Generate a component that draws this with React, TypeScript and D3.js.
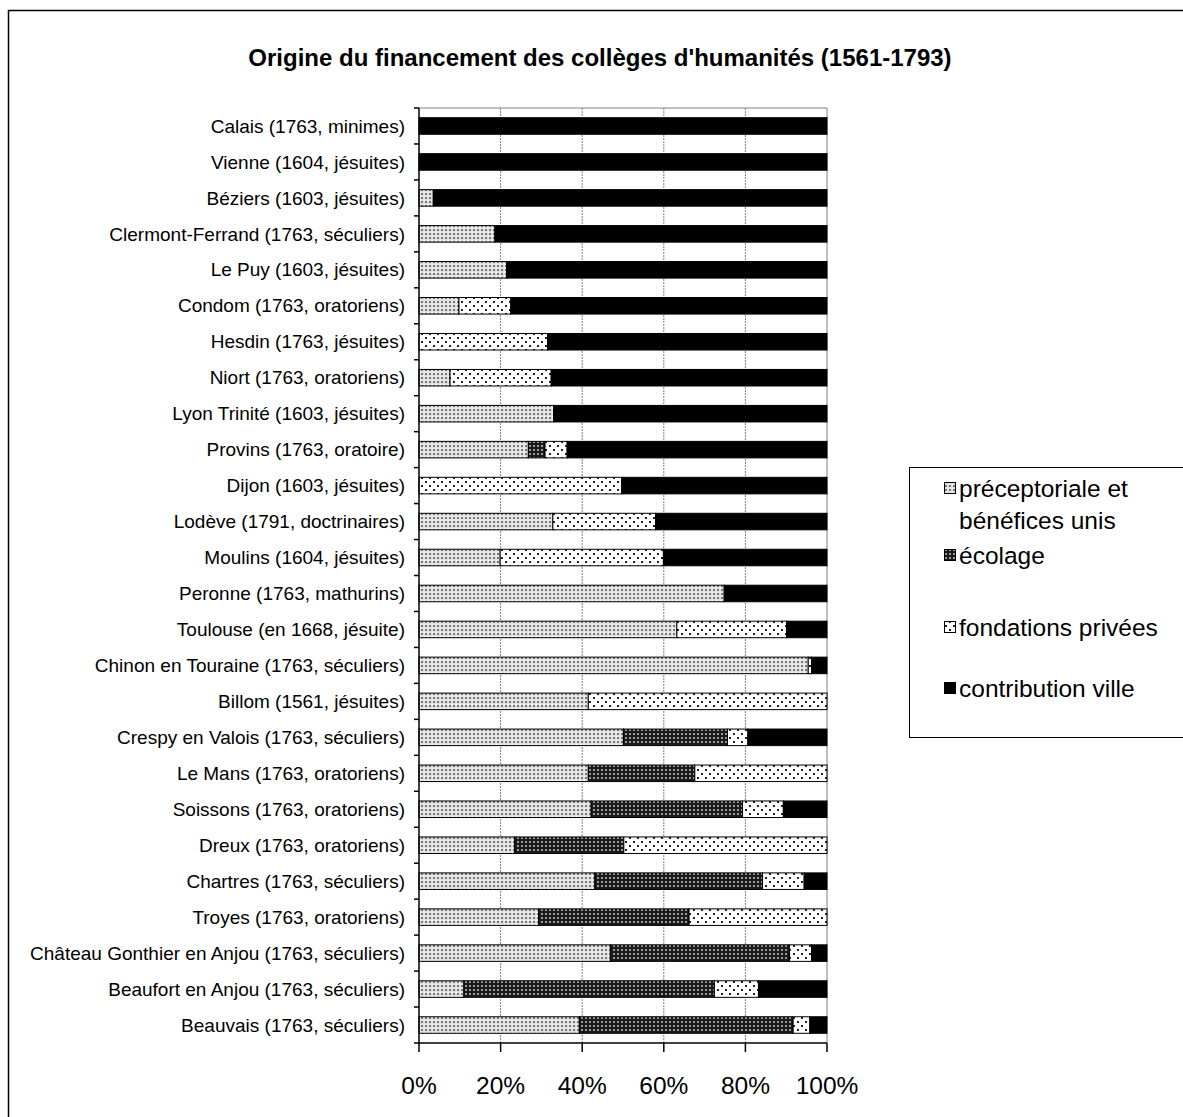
import { useEffect, useRef } from 'react'
import * as d3 from 'd3'

const TITLE = "Origine du financement des collèges d'humanités (1561-1793)"

const COLLEGES = [
  'Calais (1763, minimes)',
  'Vienne (1604, jésuites)',
  'Béziers (1603, jésuites)',
  'Clermont-Ferrand (1763, séculiers)',
  'Le Puy (1603, jésuites)',
  'Condom (1763, oratoriens)',
  'Hesdin (1763, jésuites)',
  'Niort (1763, oratoriens)',
  'Lyon Trinité (1603, jésuites)',
  'Provins (1763, oratoire)',
  'Dijon (1603, jésuites)',
  'Lodève (1791, doctrinaires)',
  'Moulins (1604, jésuites)',
  'Peronne (1763, mathurins)',
  'Toulouse (en 1668, jésuite)',
  'Chinon en Touraine (1763, séculiers)',
  'Billom (1561, jésuites)',
  'Crespy en Valois (1763, séculiers)',
  'Le Mans (1763, oratoriens)',
  'Soissons (1763, oratoriens)',
  'Dreux (1763, oratoriens)',
  'Chartres (1763, séculiers)',
  'Troyes (1763, oratoriens)',
  'Château Gonthier en Anjou (1763, séculiers)',
  'Beaufort en Anjou (1763, séculiers)',
  'Beauvais (1763, séculiers)',
]

// shares in percent, same order as COLLEGES
const PRECEPTORIALE = [0, 0, 3.5, 18.6, 21.5, 9.8, 0, 7.6, 33, 26.8, 0, 32.8, 19.9, 74.8, 63.2, 95.4, 41.5, 50.1, 41.5, 42.2, 23.4, 43.1, 29.3, 46.9, 11, 39.3]
const ECOLAGE = [0, 0, 0, 0, 0, 0, 0, 0, 0, 4.1, 0, 0, 0, 0, 0, 0, 0, 25.5, 26.1, 37.1, 26.8, 41.1, 36.9, 43.9, 61.4, 52.4]
const FONDATIONS = [0, 0, 0, 0, 0, 12.7, 31.5, 24.8, 0, 5.4, 49.7, 25.2, 40, 0, 26.9, 0.8, 58.5, 5, 32.4, 10, 49.8, 10.2, 33.8, 5.4, 10.8, 4.1]

const SERIES = [
  { key: 'preceptoriale', label: ['préceptoriale et', 'bénéfices unis'], fill: 'url(#pat-precept)', values: PRECEPTORIALE },
  { key: 'ecolage', label: ['écolage'], fill: 'url(#pat-ecolage)', values: ECOLAGE },
  { key: 'fondations', label: ['fondations privées'], fill: 'url(#pat-fond)', values: FONDATIONS },
  {
    key: 'ville', label: ['contribution ville'], fill: '#000',
    values: COLLEGES.map((_, i) => 100 - PRECEPTORIALE[i] - ECOLAGE[i] - FONDATIONS[i]),
  },
]

const X_TICKS = [0, 20, 40, 60, 80, 100]

const WIDTH = 1183
const HEIGHT = 1117
const PLOT = { left: 419, right: 827, top: 108, bottom: 1043 }
const FONT = 'Liberation Sans, Arial, sans-serif'

export default function App() {
  const svgRef = useRef<SVGSVGElement>(null)

  useEffect(() => {
    const svg = d3.select(svgRef.current)
    svg.selectAll('*').remove()

    // ── Patterns ────────────────────────────────────────────────────────────
    const defs = svg.append('defs')
    const p1 = defs.append('pattern').attr('id', 'pat-precept')
      .attr('patternUnits', 'userSpaceOnUse').attr('width', 4).attr('height', 4)
    p1.append('rect').attr('width', 4).attr('height', 4).attr('fill', '#e2e2e2')
    p1.append('rect').attr('x', 1).attr('y', 1).attr('width', 2).attr('height', 2).attr('fill', '#7a7a7a')
    p1.append('rect').attr('x', 0).attr('y', 0).attr('width', 1).attr('height', 1).attr('fill', '#ffffff')

    const p2 = defs.append('pattern').attr('id', 'pat-ecolage')
      .attr('patternUnits', 'userSpaceOnUse').attr('width', 4).attr('height', 4)
    p2.append('rect').attr('width', 4).attr('height', 4).attr('fill', '#1a1a1a')
    p2.append('rect').attr('x', 1).attr('y', 1).attr('width', 2).attr('height', 2).attr('fill', '#9a9a9a')

    const p3 = defs.append('pattern').attr('id', 'pat-fond')
      .attr('patternUnits', 'userSpaceOnUse').attr('width', 8).attr('height', 8)
    p3.append('rect').attr('width', 8).attr('height', 8).attr('fill', '#fff')
    p3.append('rect').attr('x', 1).attr('y', 1).attr('width', 2).attr('height', 2).attr('fill', '#222')
    p3.append('rect').attr('x', 5).attr('y', 5).attr('width', 2).attr('height', 2).attr('fill', '#222')

    // ── Frame & title ───────────────────────────────────────────────────────
    svg.append('rect')
      .attr('x', 8.5).attr('y', 10.5).attr('width', 1300).attr('height', 1300)
      .attr('fill', '#fff').attr('stroke', '#000').attr('stroke-width', 1.5)

    svg.append('text')
      .attr('x', 600).attr('y', 66)
      .attr('text-anchor', 'middle').attr('font-family', FONT)
      .attr('font-size', 24).attr('font-weight', 'bold')
      .text(TITLE)

    // ── Scales ──────────────────────────────────────────────────────────────
    const x = d3.scaleLinear([0, 100], [PLOT.left, PLOT.right])
    const y = d3.scaleBand<string>(COLLEGES, [PLOT.top, PLOT.bottom])
      .paddingInner(0.54).paddingOuter(0.27)
    const step = y.step()

    // ── Grid ────────────────────────────────────────────────────────────────
    const g = svg.append('g')
    g.append('line')
      .attr('x1', PLOT.left).attr('x2', PLOT.right)
      .attr('y1', PLOT.top).attr('y2', PLOT.top)
      .attr('stroke', '#808080').attr('stroke-width', 1)
    X_TICKS.slice(1).forEach(t => {
      g.append('line')
        .attr('x1', x(t)).attr('x2', x(t))
        .attr('y1', PLOT.top).attr('y2', PLOT.bottom)
        .attr('stroke', '#808080').attr('stroke-width', 1)
        .attr('stroke-dasharray', t === 100 ? null : '2,1')
    })

    // ── Bars ────────────────────────────────────────────────────────────────
    const stacked = d3.stack<number>()
      .keys(SERIES.map(s => s.key))
      .value((i, key) => SERIES.find(s => s.key === key)!.values[i])(COLLEGES.map((_, i) => i))

    stacked.forEach((layer, si) => {
      g.append('g').selectAll('rect')
        .data(layer)
        .join('rect')
        .filter(d => d[1] - d[0] > 0.01)
        .attr('x', d => x(d[0]))
        .attr('width', d => x(d[1]) - x(d[0]))
        .attr('y', d => y(COLLEGES[d.data])!)
        .attr('height', y.bandwidth())
        .attr('fill', SERIES[si].fill)
        .attr('stroke', '#000').attr('stroke-width', 1)
    })

    // ── Axes ────────────────────────────────────────────────────────────────
    const ax = svg.append('g').attr('font-family', FONT)
    ax.append('line')
      .attr('x1', PLOT.left).attr('x2', PLOT.left)
      .attr('y1', PLOT.top).attr('y2', PLOT.bottom + 0.5)
      .attr('stroke', '#000').attr('stroke-width', 1.5)
    ax.append('line')
      .attr('x1', PLOT.left).attr('x2', PLOT.right)
      .attr('y1', PLOT.bottom).attr('y2', PLOT.bottom)
      .attr('stroke', '#000').attr('stroke-width', 1.5)

    d3.range(COLLEGES.length + 1).forEach(i => {
      const yy = PLOT.top + i * step
      ax.append('line')
        .attr('x1', PLOT.left - 5).attr('x2', PLOT.left)
        .attr('y1', yy).attr('y2', yy)
        .attr('stroke', '#000').attr('stroke-width', 1.5)
    })

    COLLEGES.forEach(c => {
      ax.append('text')
        .attr('x', 405).attr('y', y(c)! + y.bandwidth() / 2)
        .attr('dy', '0.35em').attr('text-anchor', 'end')
        .attr('font-size', 19).attr('fill', '#000')
        .text(c)
    })

    X_TICKS.forEach(t => {
      ax.append('line')
        .attr('x1', x(t)).attr('x2', x(t))
        .attr('y1', PLOT.bottom).attr('y2', PLOT.bottom + 9)
        .attr('stroke', '#000').attr('stroke-width', 1.5)
      ax.append('text')
        .attr('x', x(t)).attr('y', 1094)
        .attr('text-anchor', 'middle').attr('font-size', 24.5)
        .text(`${t}%`)
    })

    // ── Legend ──────────────────────────────────────────────────────────────
    const lg = svg.append('g').attr('font-family', FONT)
    lg.append('rect')
      .attr('x', 909.5).attr('y', 467.5).attr('width', 400).attr('height', 270)
      .attr('fill', '#fff').attr('stroke', '#000').attr('stroke-width', 1)

    const legendY = [488, 555, 627, 688]
    SERIES.forEach((s, i) => {
      const cy = legendY[i]
      lg.append('rect')
        .attr('x', 944.5).attr('y', cy - 5.5).attr('width', 11).attr('height', 11)
        .attr('fill', s.fill).attr('stroke', '#000').attr('stroke-width', 1)
      s.label.forEach((line, li) => {
        lg.append('text')
          .attr('x', 959).attr('y', cy + li * 32)
          .attr('dy', '0.35em').attr('font-size', 24.5)
          .text(line)
      })
    })
  }, [])

  return (
    <svg
      ref={svgRef}
      width={WIDTH}
      height={HEIGHT}
      style={{ position: 'absolute', left: 0, top: 0, background: '#fff' }}
    />
  )
}
